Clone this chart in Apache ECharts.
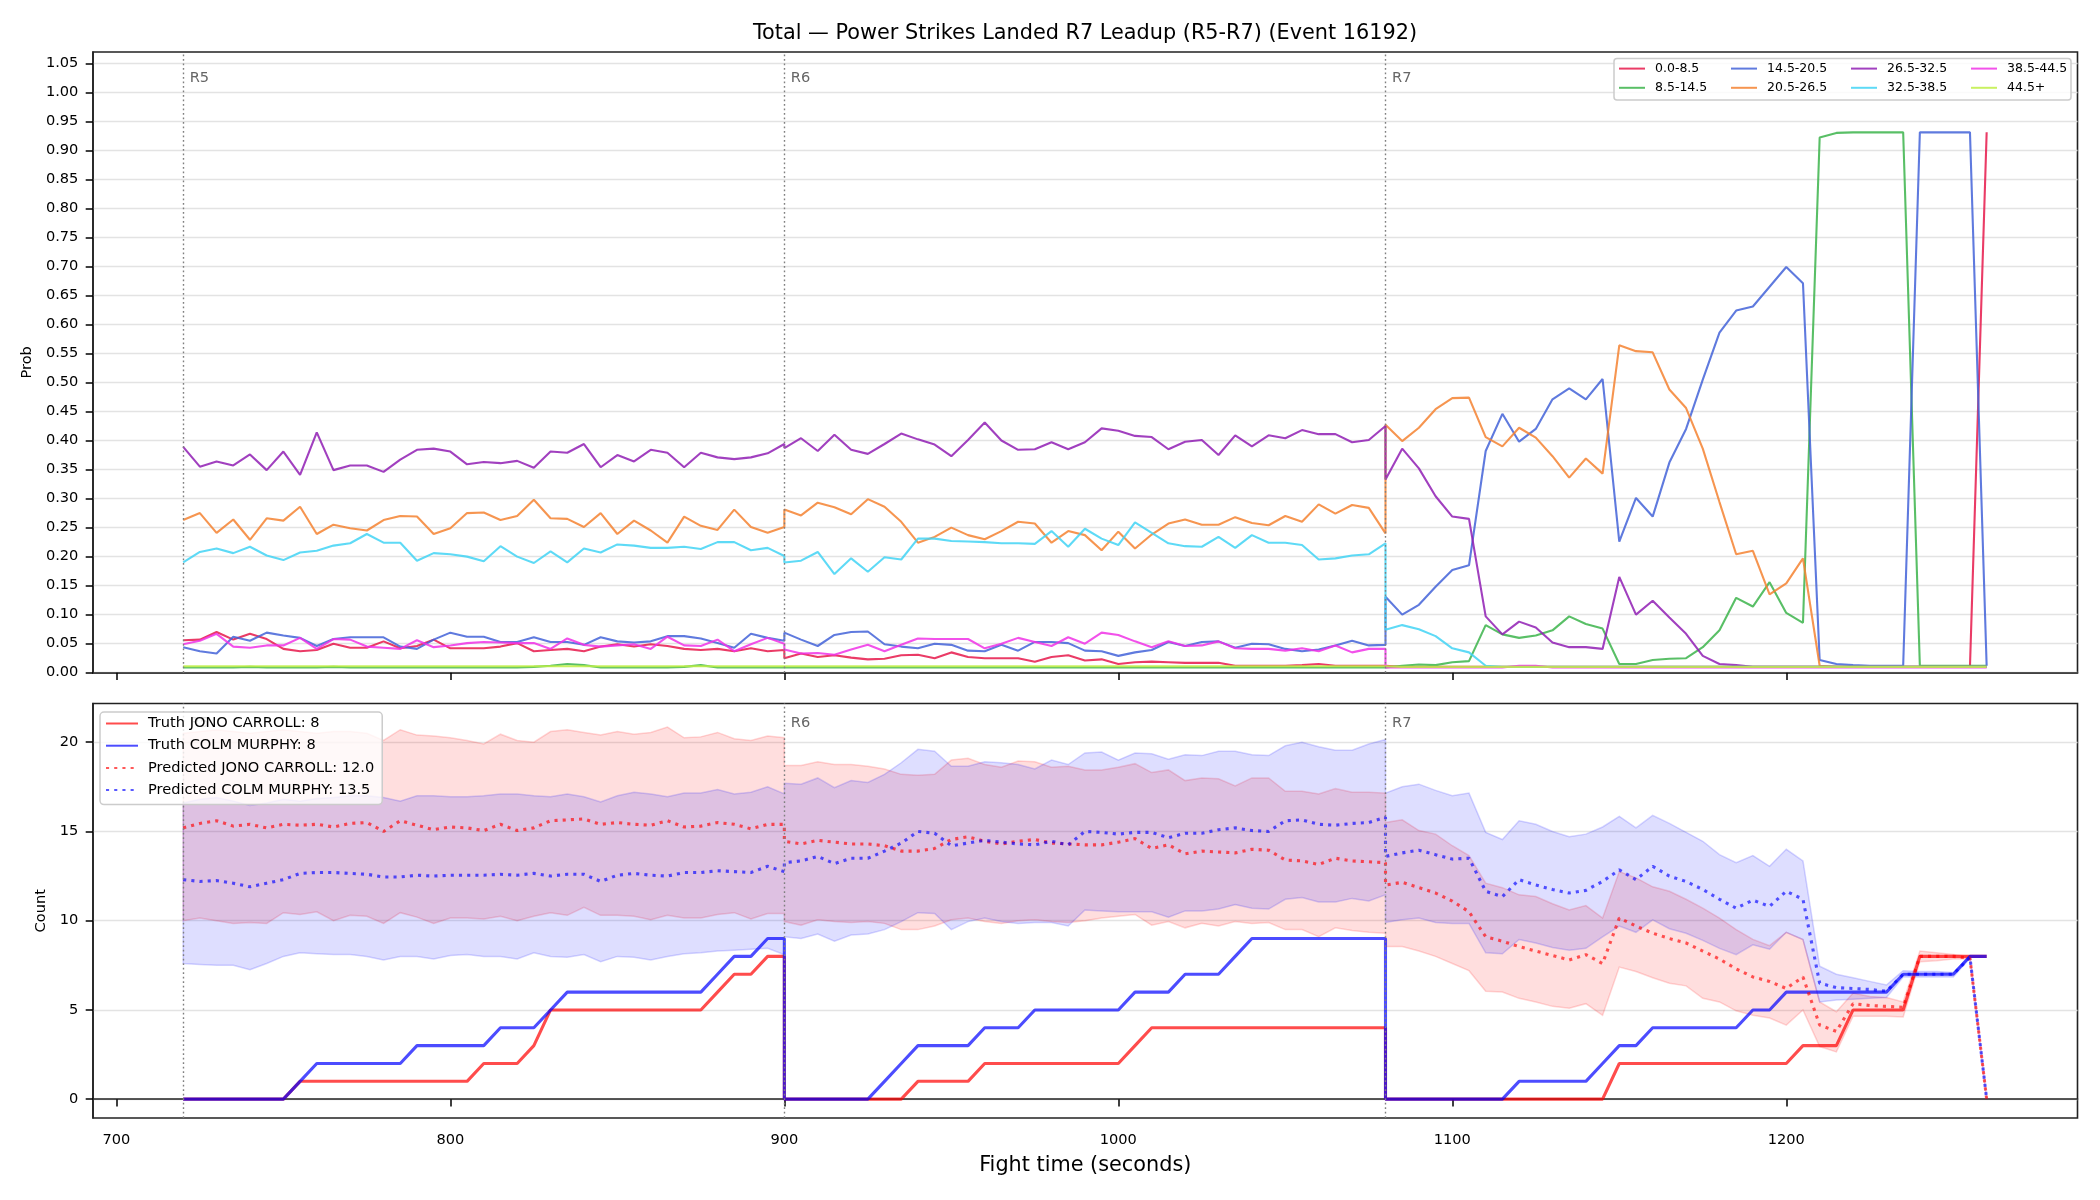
<!DOCTYPE html>
<html>
<head>
<meta charset="utf-8">
<script src="https://cdn.jsdelivr.net/npm/echarts@6/dist/echarts.min.js"></script>
<style>
  html, body { margin: 0; padding: 0; background: #fff; }
  #chart { width: 2100px; height: 1200px; }
</style>
</head>
<body>
<div id="chart"></div>
<script>
// sample times (s) — R5, R6, R7 (each round starts again at its boundary)
const times = [
  720,725,730,735,740,745,750,755,760,765,770,775,780,785,790,795,800,805,810,815,820,825,830,835,840,845,850,855,860,865,870,875,880,885,890,895,900,
  900,905,910,915,920,925,930,935,940,945,950,955,960,965,970,975,980,985,990,995,1000,1005,1010,1015,1020,1025,1030,1035,1040,1045,1050,1055,1060,1065,1070,1075,1080,
  1080,1085,1090,1095,1100,1105,1110,1115,1120,1125,1130,1135,1140,1145,1150,1155,1160,1165,1170,1175,1180,1185,1190,1195,1200,1205,1210,1215,1220,1225,1230,1235,1240,1245,1250,1255,1260
];

const roundStarts = [720, 900, 1080];
const roundLabels = ['R5', 'R6', 'R7'];

const xTicks = [700, 800, 900, 1000, 1100, 1200];
const probTicks = [0, 0.05, 0.10, 0.15, 0.20, 0.25, 0.30, 0.35, 0.40, 0.45, 0.50, 0.55, 0.60, 0.65, 0.70, 0.75, 0.80, 0.85, 0.90, 0.95, 1.00, 1.05];
const countTicks = [0, 5, 10, 15, 20];

// probability per total-strike bin
const binNames = ['0.0-8.5', '8.5-14.5', '14.5-20.5', '20.5-26.5', '26.5-32.5', '32.5-38.5', '38.5-44.5', '44.5+'];
const binColors = ['#e6194b', '#3cb44b', '#4363d8', '#f58231', '#911eb4', '#42d4f4', '#f032e6', '#bfef45'];

const pBin0 = [
  0.056,0.057,0.070,0.057,0.067,0.058,0.041,0.037,0.039,0.050,0.043,0.043,0.054,0.042,0.046,0.057,0.042,0.042,0.042,0.045,0.051,0.037,0.039,0.041,0.037,0.045,0.049,0.045,0.049,0.046,0.041,0.039,0.041,0.037,0.042,0.037,0.039,
  0.025,0.033,0.027,0.030,0.026,0.023,0.024,0.030,0.031,0.025,0.035,0.027,0.025,0.025,0.025,0.019,0.027,0.030,0.021,0.023,0.015,0.018,0.019,0.018,0.017,0.017,0.017,0.012,0.012,0.012,0.012,0.013,0.015,0.012,0.012,0.012,0.012,
  0.010,0.010,0.010,0.010,0.010,0.010,0.010,0.010,0.010,0.010,0.010,0.010,0.010,0.010,0.010,0.010,0.010,0.010,0.010,0.010,0.010,0.010,0.010,0.010,0.010,0.010,0.010,0.010,0.010,0.010,0.010,0.010,0.010,0.010,0.010,0.010,0.931
];
const pBin1 = [
  0.009,0.009,0.009,0.009,0.010,0.009,0.009,0.009,0.009,0.010,0.009,0.009,0.009,0.009,0.009,0.009,0.009,0.009,0.009,0.009,0.009,0.010,0.012,0.015,0.013,0.009,0.009,0.009,0.009,0.009,0.010,0.013,0.009,0.009,0.009,0.009,0.009,
  0.009,0.009,0.009,0.009,0.009,0.009,0.009,0.009,0.009,0.009,0.009,0.009,0.009,0.009,0.009,0.009,0.009,0.009,0.009,0.009,0.009,0.009,0.009,0.009,0.009,0.009,0.009,0.009,0.009,0.009,0.009,0.009,0.009,0.009,0.009,0.009,0.009,
  0.010,0.012,0.014,0.013,0.018,0.020,0.082,0.066,0.060,0.064,0.073,0.097,0.084,0.076,0.015,0.015,0.022,0.024,0.025,0.044,0.073,0.129,0.114,0.156,0.103,0.086,0.922,0.930,0.931,0.931,0.931,0.931,0.012,0.012,0.012,0.012,0.012
];
const pBin2 = [
  0.044,0.037,0.033,0.062,0.055,0.069,0.064,0.060,0.046,0.058,0.061,0.061,0.061,0.045,0.041,0.057,0.069,0.062,0.062,0.053,0.053,0.061,0.053,0.053,0.048,0.061,0.054,0.052,0.054,0.063,0.063,0.059,0.051,0.043,0.067,0.060,0.055,
  0.069,0.057,0.046,0.065,0.070,0.071,0.049,0.045,0.042,0.050,0.048,0.038,0.037,0.048,0.038,0.053,0.053,0.051,0.038,0.037,0.029,0.035,0.039,0.053,0.046,0.053,0.054,0.043,0.050,0.049,0.041,0.037,0.040,0.047,0.055,0.047,0.048,
  0.131,0.100,0.117,0.148,0.177,0.185,0.382,0.446,0.398,0.420,0.471,0.490,0.471,0.506,0.226,0.301,0.269,0.362,0.420,0.505,0.586,0.624,0.631,0.665,0.699,0.671,0.022,0.015,0.013,0.012,0.012,0.012,0.931,0.931,0.931,0.931,0.012
];
const pBin3 = [
  0.263,0.275,0.241,0.264,0.229,0.266,0.262,0.286,0.239,0.255,0.249,0.245,0.263,0.270,0.269,0.239,0.249,0.275,0.276,0.263,0.270,0.298,0.266,0.265,0.251,0.275,0.239,0.262,0.245,0.224,0.269,0.253,0.246,0.281,0.251,0.241,0.251,
  0.281,0.271,0.293,0.285,0.273,0.299,0.286,0.260,0.224,0.234,0.250,0.237,0.230,0.244,0.260,0.257,0.224,0.244,0.237,0.211,0.243,0.214,0.238,0.257,0.264,0.255,0.255,0.268,0.258,0.254,0.270,0.260,0.290,0.274,0.289,0.284,0.240,
  0.427,0.399,0.422,0.454,0.473,0.474,0.406,0.390,0.422,0.405,0.373,0.336,0.369,0.343,0.564,0.554,0.552,0.488,0.456,0.386,0.294,0.204,0.210,0.135,0.154,0.197,0.012,0.010,0.010,0.010,0.010,0.010,0.010,0.010,0.010,0.010,0.010
];
const pBin4 = [
  0.389,0.355,0.364,0.357,0.376,0.349,0.381,0.341,0.414,0.349,0.357,0.357,0.346,0.367,0.384,0.386,0.381,0.359,0.363,0.361,0.365,0.353,0.381,0.379,0.394,0.354,0.375,0.364,0.384,0.379,0.354,0.379,0.371,0.368,0.371,0.378,0.394,
  0.387,0.404,0.382,0.410,0.384,0.377,0.394,0.412,0.402,0.393,0.373,0.401,0.431,0.400,0.384,0.385,0.397,0.385,0.397,0.421,0.417,0.408,0.406,0.385,0.398,0.401,0.375,0.409,0.390,0.409,0.404,0.418,0.411,0.411,0.397,0.401,0.425,
  0.333,0.386,0.352,0.304,0.269,0.265,0.097,0.066,0.088,0.078,0.052,0.044,0.044,0.041,0.165,0.100,0.124,0.095,0.067,0.029,0.015,0.013,0.010,0.010,0.010,0.010,0.010,0.010,0.010,0.010,0.010,0.010,0.010,0.010,0.010,0.010,0.010
];
const pBin5 = [
  0.190,0.208,0.214,0.206,0.217,0.202,0.194,0.207,0.210,0.219,0.223,0.239,0.224,0.224,0.193,0.206,0.204,0.200,0.192,0.218,0.200,0.189,0.209,0.190,0.214,0.207,0.221,0.219,0.215,0.215,0.217,0.213,0.225,0.225,0.211,0.215,0.201,
  0.190,0.193,0.208,0.170,0.197,0.174,0.199,0.195,0.231,0.231,0.227,0.226,0.225,0.223,0.223,0.222,0.244,0.217,0.248,0.231,0.220,0.259,0.241,0.223,0.218,0.217,0.234,0.215,0.237,0.224,0.224,0.220,0.195,0.197,0.202,0.204,0.223,
  0.074,0.082,0.075,0.063,0.042,0.035,0.012,0.010,0.010,0.010,0.010,0.010,0.010,0.010,0.010,0.010,0.010,0.010,0.010,0.010,0.010,0.010,0.010,0.010,0.010,0.010,0.010,0.010,0.010,0.010,0.010,0.010,0.010,0.010,0.010,0.010,0.010
];
const pBin6 = [
  0.049,0.055,0.067,0.045,0.043,0.047,0.047,0.060,0.041,0.058,0.057,0.045,0.043,0.041,0.056,0.044,0.047,0.051,0.053,0.052,0.051,0.051,0.041,0.059,0.048,0.045,0.047,0.049,0.041,0.062,0.047,0.046,0.057,0.037,0.049,0.060,0.050,
  0.040,0.033,0.034,0.031,0.040,0.048,0.037,0.048,0.059,0.058,0.058,0.058,0.042,0.050,0.060,0.053,0.046,0.061,0.050,0.069,0.065,0.054,0.044,0.054,0.046,0.047,0.054,0.042,0.041,0.041,0.038,0.042,0.037,0.047,0.035,0.041,0.041,
  0.009,0.009,0.009,0.009,0.009,0.009,0.009,0.009,0.012,0.012,0.009,0.009,0.009,0.009,0.009,0.009,0.009,0.009,0.009,0.009,0.009,0.009,0.009,0.009,0.009,0.009,0.009,0.009,0.009,0.009,0.009,0.009,0.009,0.009,0.009,0.009,0.009
];
const pBin7 = [
  0.011,0.011,0.011,0.011,0.011,0.011,0.011,0.011,0.011,0.011,0.011,0.011,0.011,0.011,0.011,0.011,0.011,0.011,0.011,0.011,0.011,0.011,0.011,0.011,0.011,0.011,0.011,0.011,0.011,0.011,0.011,0.011,0.011,0.011,0.011,0.011,0.011,
  0.011,0.011,0.011,0.011,0.011,0.011,0.011,0.011,0.011,0.011,0.011,0.011,0.011,0.011,0.011,0.011,0.011,0.011,0.011,0.011,0.011,0.011,0.011,0.011,0.011,0.011,0.011,0.011,0.011,0.011,0.011,0.011,0.011,0.011,0.011,0.011,0.011,
  0.010,0.010,0.010,0.010,0.010,0.010,0.010,0.010,0.010,0.010,0.010,0.010,0.010,0.010,0.010,0.010,0.010,0.010,0.010,0.010,0.010,0.010,0.010,0.010,0.010,0.010,0.010,0.010,0.010,0.010,0.010,0.010,0.010,0.010,0.010,0.010,0.010
];
const probBins = [pBin0, pBin1, pBin2, pBin3, pBin4, pBin5, pBin6, pBin7];

// truth counts
const truthJono = [
  0,0,0,0,0,0,0,1,1,1,1,1,1,1,1,1,1,1,2,2,2,3,5,5,5,5,5,5,5,5,5,5,6,7,7,8,8,
  0,0,0,0,0,0,0,0,1,1,1,1,2,2,2,2,2,2,2,2,2,3,4,4,4,4,4,4,4,4,4,4,4,4,4,4,4,
  0,0,0,0,0,0,0,0,0,0,0,0,0,0,2,2,2,2,2,2,2,2,2,2,2,3,3,3,5,5,5,5,8,8,8,8,8
];
const truthColm = [
  0,0,0,0,0,0,0,1,2,2,2,2,2,2,3,3,3,3,3,4,4,4,5,6,6,6,6,6,6,6,6,6,7,8,8,9,9,
  0,0,0,0,0,0,1,2,3,3,3,3,4,4,4,5,5,5,5,5,5,6,6,6,7,7,7,8,9,9,9,9,9,9,9,9,9,
  0,0,0,0,0,0,0,0,1,1,1,1,1,2,3,3,4,4,4,4,4,4,5,5,6,6,6,6,6,6,6,7,7,7,7,8,8
];

// predicted counts and their bands
const predJono = [
  15.2,15.45,15.6,15.3,15.4,15.2,15.4,15.35,15.4,15.25,15.45,15.5,15.0,15.6,15.35,15.1,15.25,15.2,15.05,15.4,15.05,15.2,15.6,15.65,15.7,15.4,15.5,15.4,15.35,15.6,15.25,15.3,15.5,15.4,15.15,15.4,15.4,
  14.45,14.3,14.5,14.4,14.3,14.3,14.2,13.9,13.9,14.05,14.55,14.7,14.45,14.3,14.45,14.55,14.35,14.3,14.25,14.25,14.4,14.6,14.05,14.25,13.75,13.9,13.85,13.8,14.0,13.95,13.4,13.35,13.15,13.5,13.35,13.3,13.25,
  12.0,12.15,11.85,11.55,11.1,10.5,9.1,8.85,8.55,8.3,8.05,7.8,8.1,7.6,10.15,9.7,9.3,9.0,8.75,8.3,7.85,7.3,6.85,6.6,6.2,6.85,4.15,3.8,5.35,5.25,5.2,5.15,8.0,8.0,8.0,7.9,0
];
const predColm = [
  12.3,12.2,12.25,12.1,11.9,12.1,12.3,12.65,12.7,12.7,12.65,12.6,12.45,12.45,12.55,12.5,12.55,12.55,12.55,12.6,12.55,12.65,12.5,12.6,12.6,12.2,12.55,12.65,12.55,12.5,12.7,12.7,12.8,12.75,12.7,13.05,12.75,
  13.25,13.35,13.6,13.2,13.5,13.5,13.9,14.35,15.0,14.9,14.2,14.35,14.5,14.4,14.3,14.25,14.45,14.25,15.0,14.95,14.85,14.95,14.95,14.65,14.9,14.9,15.1,15.2,15.05,15.0,15.6,15.65,15.4,15.35,15.45,15.5,15.8,
  13.6,13.8,13.95,13.7,13.45,13.5,11.65,11.35,12.3,12.0,11.75,11.55,11.7,12.2,12.85,12.3,13.05,12.5,12.2,11.75,11.2,10.7,11.15,10.8,11.65,11.2,6.5,6.25,6.2,6.15,6.05,7.0,7.0,7.0,7.0,7.95,0
];
const jonoLow = [
  10.0,10.15,10.0,9.85,9.9,9.85,10.45,10.35,10.5,10.0,10.3,10.25,9.85,10.45,10.2,9.85,10.15,10.15,10.1,10.25,10.0,10.25,10.45,10.3,10.75,10.3,10.3,10.25,10.05,10.3,10.15,10.15,10.35,10.45,10.1,10.4,10.4,
  9.95,9.75,10.05,9.95,9.9,9.95,9.85,9.5,9.5,9.7,10.05,10.15,9.95,9.85,10.0,10.05,9.95,9.9,10.0,10.15,10.25,10.35,9.75,9.95,9.6,9.85,9.7,9.95,9.85,9.9,9.5,9.5,9.1,9.6,9.45,9.35,9.3,
  8.55,8.55,8.3,8.0,7.6,7.2,6.05,6.0,5.65,5.45,5.2,5.1,5.35,4.7,7.4,7.15,6.8,6.5,6.35,5.65,5.45,4.95,4.7,4.55,4.15,5.0,2.95,2.65,4.65,4.65,4.65,4.6,7.7,7.75,7.85,7.85,0
];
const jonoHigh = [
  20.5,20.6,20.7,20.6,20.5,20.6,20.7,20.6,20.5,20.6,20.6,20.5,20.1,20.7,20.4,20.35,20.25,20.1,19.9,20.45,20.1,20.0,20.6,20.7,20.55,20.4,20.6,20.45,20.55,20.85,20.25,20.3,20.55,20.2,20.1,20.35,20.25,
  18.7,18.7,18.9,18.75,18.75,18.65,18.5,18.2,18.15,18.2,19.0,19.1,18.75,18.6,18.95,18.9,18.6,18.65,18.45,18.45,18.6,18.8,18.3,18.45,17.85,18.0,17.95,17.55,18.0,18.0,17.25,17.25,17.1,17.4,17.2,17.2,17.15,
  15.5,15.65,15.05,14.85,14.2,13.65,12.1,11.85,11.45,11.35,10.95,10.6,10.85,10.15,12.75,12.4,11.9,11.65,11.2,10.7,10.15,9.5,8.95,8.6,9.35,8.95,5.45,4.9,5.95,5.75,5.7,5.45,8.3,8.2,8.1,8.0,0
];
const colmLow = [
  7.6,7.55,7.5,7.5,7.25,7.6,8.0,8.2,8.15,8.1,8.1,8.0,7.8,8.0,8.0,7.85,8.05,8.1,8.0,8.0,7.85,8.2,8.0,7.95,8.1,7.7,8.0,7.95,7.8,8.0,8.15,8.2,8.3,8.35,8.4,8.45,8.1,
  9.1,9.0,9.25,8.85,9.2,9.25,9.5,9.95,10.45,10.4,9.5,9.95,10.15,9.95,9.85,9.9,9.9,9.7,10.6,10.55,10.5,10.5,10.5,10.2,10.55,10.55,10.65,10.9,10.7,10.65,11.2,11.3,11.05,11.05,11.25,11.1,11.45,
  9.9,10.05,10.15,9.9,9.85,9.85,8.2,8.15,8.95,8.75,8.5,8.35,8.45,9.1,9.7,9.35,10.05,9.55,9.3,8.9,8.45,8.1,8.65,8.4,9.35,8.95,5.45,5.55,5.6,5.65,5.7,6.85,6.85,6.85,6.85,7.9,0
];
const colmHigh = [
  16.6,16.8,16.9,16.7,16.45,16.6,16.8,16.7,16.85,16.9,17.0,17.0,16.9,16.7,17.0,17.0,16.95,16.95,17.0,17.1,17.1,17.0,16.95,17.1,16.95,16.65,17.0,17.2,17.1,16.95,17.15,17.15,17.35,17.1,17.2,17.5,17.1,
  17.7,17.65,18.0,17.45,17.85,17.75,18.2,18.85,19.6,19.5,18.65,18.65,18.9,18.85,18.75,18.5,19.0,18.75,19.4,19.45,19.0,19.4,19.35,19.05,19.3,19.25,19.5,19.5,19.3,19.25,19.8,20.0,19.75,19.55,19.55,19.9,20.15,
  17.15,17.5,17.65,17.3,17.0,17.15,14.95,14.55,15.6,15.4,15.0,14.7,14.85,15.25,15.85,15.2,15.9,15.45,14.95,14.45,13.7,13.25,13.65,13.05,14.0,13.35,7.45,7.0,6.8,6.6,6.4,7.2,7.15,7.15,7.1,8.0,0
];

const lblTruthJ = 'Truth JONO CARROLL: 8';
const lblTruthC = 'Truth COLM MURPHY: 8';
const lblPredJ = 'Predicted JONO CARROLL: 12.0';
const lblPredC = 'Predicted COLM MURPHY: 13.5';

const pairs = vals => times.map((t, i) => [t, vals[i]]);

const FONT = 'DejaVu Sans';
const RED = '#ff0000', BLUE = '#0000ff';

const roundLine = {
  silent: true, symbol: ['none', 'none'], label: { show: false },
  lineStyle: { type: [1.7, 2.8], color: '#808080', width: 1.4, opacity: 1 },
  data: roundStarts.map(x => ({ xAxis: x }))
};
function roundText(yVal) {
  return {
    silent: true, symbol: 'circle', symbolSize: 1,
    itemStyle: { color: 'rgba(0,0,0,0)' },
    label: { show: true, position: 'right', distance: 6, color: '#666', fontSize: 14.6, fontFamily: FONT, formatter: '{b}' },
    data: roundStarts.map((x, i) => ({ name: roundLabels[i], coord: [x, yVal] }))
  };
}

const series = [];

// top panel: bin probabilities
binNames.forEach((n, k) => {
  const s = {
    type: 'line', name: n, xAxisIndex: 0, yAxisIndex: 0,
    data: pairs(probBins[k]), symbol: 'none',
    lineStyle: { width: 2.1, color: binColors[k], opacity: 0.85 },
    itemStyle: { color: binColors[k] }
  };
  if (k === 0) { s.markLine = roundLine; s.markPoint = roundText(1.0246); }
  series.push(s);
});

// bottom panel: prediction bands as polygons through the axis scales
function band(name, lo, hi, fill, edge) {
  series.push({
    type: 'custom', name: name, xAxisIndex: 1, yAxisIndex: 1, clip: true, silent: true,
    data: [[times[0], lo[0]]],
    renderItem: (params, api) => {
      const pts = [];
      for (let i = 0; i < times.length; i++) pts.push(api.coord([times[i], hi[i]]));
      for (let i = times.length - 1; i >= 0; i--) pts.push(api.coord([times[i], lo[i]]));
      return { type: 'polygon', shape: { points: pts }, style: { fill: fill, stroke: edge, lineWidth: 1.5 } };
    }
  });
}
band('jono band', jonoLow, jonoHigh, 'rgba(255,0,0,0.13)', 'rgba(255,0,0,0.16)');
band('colm band', colmLow, colmHigh, 'rgba(0,0,255,0.13)', 'rgba(0,0,255,0.16)');

function countLine(name, vals, color, opacity, dotted) {
  const ls = { width: 3.1, color: color, opacity: opacity };
  if (dotted) { ls.type = [3.1, 5.1]; ls.cap = 'butt'; }
  const s = {
    type: 'line', name: name, xAxisIndex: 1, yAxisIndex: 1,
    data: pairs(vals), symbol: 'none', lineStyle: ls, itemStyle: { color: color }
  };
  series.push(s);
  return s;
}
const tj = countLine(lblTruthJ, truthJono, RED, 0.7, false);
tj.markLine = roundLine;
tj.markPoint = roundText(21.06);
countLine(lblTruthC, truthColm, BLUE, 0.7, false);
countLine(lblPredJ, predJono, RED, 0.65, true);
countLine(lblPredC, predColm, BLUE, 0.65, true);

const tickStyle = { show: true, length: 7.3, inside: false, lineStyle: { color: '#000', width: 1.5 } };
const labelStyle = { color: '#000', fontSize: 14.6, fontFamily: FONT, margin: 14.6 };
const gridLine = { show: true, lineStyle: { color: '#e3e3e3', width: 1.3 } };

// top legend: 4 columns of 2
const topLegendCols = [[0, 1], [2, 3], [4, 5], [6, 7]];
const topLegendLeft = [1618, 1730, 1850, 1970];
const topLegends = topLegendCols.map((col, c) => ({
  data: col.map(k => binNames[k]), orient: 'vertical',
  left: topLegendLeft[c], top: 61.6, padding: 0, z: 20,
  itemWidth: 26, itemHeight: 12, itemGap: 5.2, selectedMode: false,
  itemStyle: { opacity: 0 },
  textStyle: { fontSize: 12.5, fontFamily: FONT, color: '#000', lineHeight: 14, padding: [0, 0, 0, 5] }
}));

const option = {
  animation: false,
  backgroundColor: '#fff',
  textStyle: { fontFamily: FONT },
  title: {
    text: 'Total \u2014 Power Strikes Landed R7 Leadup (R5-R7) (Event 16192)',
    left: 1085, top: 22, textAlign: 'center', padding: 0,
    textStyle: { fontSize: 20.8, fontWeight: 'normal', color: '#000', fontFamily: FONT, lineHeight: 24 }
  },
  grid: [
    { left: 93, top: 52, width: 1984.5, height: 620.7, show: true, borderColor: '#222', borderWidth: 1.6, backgroundColor: 'transparent' },
    { left: 93, top: 703.5, width: 1984.5, height: 414.5, show: true, borderColor: '#222', borderWidth: 1.6, backgroundColor: 'transparent' }
  ],
  xAxis: [
    {
      gridIndex: 0, type: 'value', min: 693.0, max: 1287.2,
      axisLine: { show: true, lineStyle: { color: '#222', width: 1.6 } },
      axisTick: Object.assign({ customValues: xTicks }, tickStyle),
      axisLabel: { show: false, customValues: xTicks },
      splitLine: { show: false }
    },
    {
      gridIndex: 1, type: 'value', min: 693.0, max: 1287.2,
      axisLine: { show: true, lineStyle: { color: '#222', width: 1.6 } },
      axisTick: Object.assign({ customValues: xTicks }, tickStyle),
      axisLabel: Object.assign({ customValues: xTicks, formatter: v => String(v) }, labelStyle),
      splitLine: { show: false },
      name: 'Fight time (seconds)', nameLocation: 'middle', nameGap: 37,
      nameTextStyle: { fontSize: 20.8, color: '#000', fontFamily: FONT }
    }
  ],
  yAxis: [
    {
      gridIndex: 0, type: 'value', min: 0, max: 1.0694,
      axisLine: { show: true, lineStyle: { color: '#222', width: 1.6 } },
      axisTick: Object.assign({ customValues: probTicks }, tickStyle),
      axisLabel: Object.assign({ customValues: probTicks, formatter: v => v.toFixed(2) }, labelStyle),
      splitLine: gridLine,
      name: 'Prob', nameLocation: 'middle', nameGap: 54, nameRotate: 90,
      nameTextStyle: { fontSize: 14.6, color: '#000', fontFamily: FONT }
    },
    {
      gridIndex: 1, type: 'value', min: -1.055, max: 22.17,
      axisLine: { show: true, lineStyle: { color: '#222', width: 1.6 } },
      axisTick: Object.assign({ customValues: countTicks }, tickStyle),
      axisLabel: Object.assign({ customValues: countTicks, formatter: v => String(v) }, labelStyle),
      splitLine: gridLine,
      name: 'Count', nameLocation: 'middle', nameGap: 44.4, nameRotate: 90,
      nameTextStyle: { fontSize: 14.6, color: '#000', fontFamily: FONT }
    }
  ],
  legend: topLegends.concat([{
    data: [lblTruthJ, lblTruthC, lblPredJ, lblPredC], orient: 'vertical',
    left: 100, top: 712, padding: [3, 8, 6, 5], z: 20, selectedMode: false,
    itemWidth: 32, itemHeight: 14, itemGap: 5.2,
    itemStyle: { opacity: 0 },
    backgroundColor: 'rgba(255,255,255,0.8)', borderColor: '#cccccc', borderWidth: 1.5, borderRadius: 4,
    textStyle: { fontSize: 14.6, fontFamily: FONT, color: '#000', lineHeight: 17, padding: [0, 0, 0, 5] }
  }]),
  graphic: [{
    type: 'rect', z: 15, silent: true,
    shape: { x: 1614, y: 58.4, width: 457, height: 41.6, r: 3 },
    style: { fill: 'rgba(255,255,255,0.8)', stroke: '#cccccc', lineWidth: 1.5 }
  }],
  series: series
};

const chart = echarts.init(document.getElementById('chart'), null, { renderer: 'canvas' });
chart.setOption(option);
</script>
</body>
</html>
